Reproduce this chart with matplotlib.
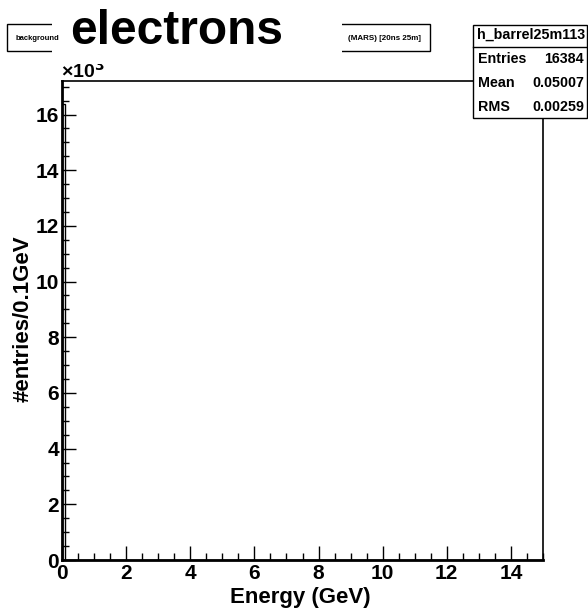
import numpy as np
import matplotlib
matplotlib.use("Agg")
import matplotlib.pyplot as plt
from matplotlib.patches import Rectangle
from matplotlib.ticker import MultipleLocator
from matplotlib.transforms import Bbox, TransformedBbox

# Histogram content: energy deposits (GeV), 0.1 GeV bins from 0 to 15
bin_edges = np.round(np.arange(0.0, 15.0001, 0.1), 4)
bin_counts = np.zeros(len(bin_edges) - 1)
bin_counts[0] = 16384

hist_name = "h_barrel25m113"
stats_labels = ["Entries", "Mean", "RMS"]
stats_values = ["16384", "0.05007", "0.00259"]
title_left = "background"
title_right = "(MARS) [20ns 25m]"
species = "electrons"
x_label = "Energy (GeV)"
y_label = "#entries/0.1GeV"
y_scale = 1e3

plt.rcParams["font.family"] = ["Liberation Sans", "DejaVu Sans"]
plt.rcParams["font.weight"] = "bold"

W, H = 588, 608
fig = plt.figure(figsize=(W / 100, H / 100), dpi=100)
fig.patch.set_facecolor("white")


def px(x, y):
    return x / W, 1 - y / H


L, R, T, B = 62, 543, 81, 560
ax = fig.add_axes([L / W, 1 - B / H, (R - L) / W, (B - T) / H])

ax.stairs(bin_counts / y_scale, bin_edges, color="black", lw=1.0)
ax.set_xlim(0, 15)
ax.set_ylim(0, bin_counts.max() * 1.05 / y_scale)

ax.xaxis.set_major_locator(MultipleLocator(2))
ax.xaxis.set_minor_locator(MultipleLocator(0.5))
ax.yaxis.set_major_locator(MultipleLocator(2))
ax.yaxis.set_minor_locator(MultipleLocator(0.5))
ax.tick_params(which="both", direction="in", top=False, right=False,
               width=1.0, colors="black", labelsize=15)
ax.tick_params(which="major", length=10)
ax.tick_params(which="minor", length=5)
ax.tick_params(axis="y", which="major", pad=2)
ax.tick_params(axis="x", which="major", pad=3)
for lab in ax.get_xticklabels() + ax.get_yticklabels():
    lab.set_fontweight("bold")
for s in ["left", "bottom"]:
    ax.spines[s].set_linewidth(2.0)
for s in ["top", "right"]:
    ax.spines[s].set_linewidth(1.2)

ax.set_xlabel(x_label, fontsize=16, fontweight="bold")
ax.xaxis.set_label_coords((371 - L) / (R - L), -(597 - B) / (B - T))
ax.xaxis.label.set_ha("right")
ax.xaxis.label.set_va("center")
ax.set_ylabel(y_label, fontsize=16, fontweight="bold")
ax.yaxis.set_label_coords(-(L - 23) / (R - L), (B - 319) / (B - T))
ax.yaxis.label.set_va("center")

# exponent marker above the y axis, clipped at its top
exp_txt = fig.text(*px(61, 82), r"×10$^{3}$", fontsize=14, fontweight="bold",
                   ha="left", va="bottom")
clip = TransformedBbox(Bbox.from_extents(0, 1 - 86 / H, 1, 1 - 64 / H), fig.transFigure)
exp_txt.set_clip_box(clip)
exp_txt.set_clip_on(True)

# title box
fig.patches.append(Rectangle(px(7, 51), (430 - 7) / W, 27 / H, transform=fig.transFigure,
                             fill=True, facecolor="white", edgecolor="black", lw=1.0))
fig.text(*px(16, 38), title_left, fontsize=5.5, ha="left", va="center")
fig.text(*px(421, 38), title_right, fontsize=5.8, ha="right", va="center")
fig.patches.append(Rectangle(px(52, 60), (342 - 52) / W, 60 / H, transform=fig.transFigure,
                             facecolor="white", edgecolor="none", zorder=3))
fig.text(*px(177, 31), species, fontsize=34.5, fontweight="bold", ha="center",
         va="center", zorder=4)

# statistics box
sx0, sx1, sy0, sy1 = 473, 587, 25, 118
fig.patches.append(Rectangle(px(sx0, sy1), (sx1 - sx0) / W, (sy1 - sy0) / H,
                             transform=fig.transFigure, facecolor="white",
                             edgecolor="black", lw=1.0, zorder=5))
fig.lines.append(plt.Line2D([sx0 / W, sx1 / W], [1 - 47 / H] * 2, transform=fig.transFigure,
                            color="black", lw=1.0, zorder=6))
fig.text(*px(531, 35), hist_name, fontsize=10.3, ha="center", va="center", zorder=7)
rows_y = [59, 83, 107]
for lab, val, yy in zip(stats_labels, stats_values, rows_y):
    fig.text(*px(478, yy), lab, fontsize=10.3, ha="left", va="center", zorder=7)
    fig.text(*px(584, yy), val, fontsize=10.3, ha="right", va="center", zorder=7)

fig.savefig("out.png", dpi=100, facecolor="white")
